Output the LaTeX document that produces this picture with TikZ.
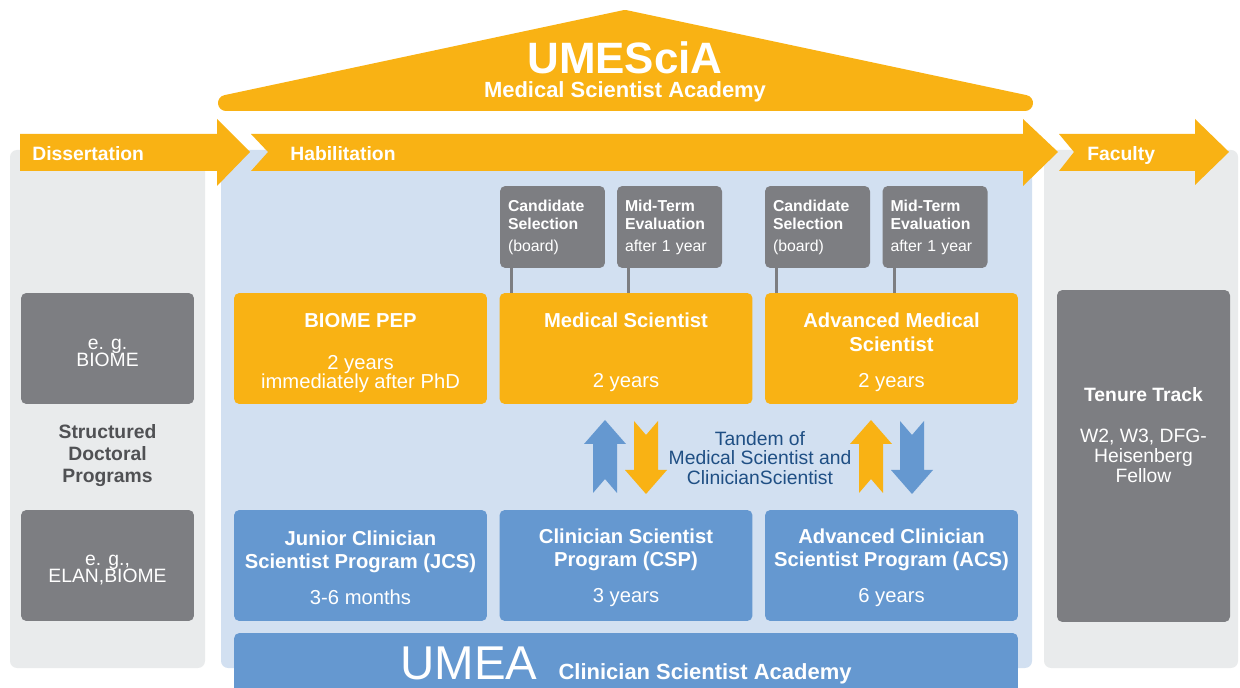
\documentclass[tikz,border=0pt]{standalone}
\usepackage{fontspec}
\setmainfont{Liberation Sans}
\usetikzlibrary{positioning}

\definecolor{umorange}{HTML}{F9B214}
\definecolor{umblue}{HTML}{6598D0}
\definecolor{umgrey}{HTML}{7D7E82}
\definecolor{paleblue}{HTML}{D2E0F1}
\definecolor{palegrey}{HTML}{E9EBEC}
\definecolor{tandemblue}{HTML}{1F4F84}
\definecolor{textgrey}{HTML}{505154}

% extra room above the first line, pushes box texts down a little
\newcommand\toppad[1]{\rule{0pt}{#1}}

\begin{document}
\begin{tikzpicture}
  [x=0.02cm, y=-0.02cm,
   progbox/.style={rectangle, rounded corners=3pt, text=white, align=center, inner sep=0pt},
   orangebox/.style={progbox, fill=umorange, minimum width=5.06cm, minimum height=2.22cm,
     font=\fontsize{11.5}{13.6}\selectfont\bfseries},
   bluebox/.style={progbox, fill=umblue, minimum width=5.06cm, minimum height=2.22cm,
     font=\fontsize{11.5}{13.6}\selectfont\bfseries},
   tagbox/.style={progbox, fill=umgrey, minimum width=2.1cm, minimum height=1.64cm,
     text width=1.78cm, align=left, font=\fontsize{9}{10.2}\selectfont\bfseries},
   darkbox/.style={progbox, fill=umgrey, minimum width=3.46cm, minimum height=2.22cm,
     font=\fontsize{11}{10}\selectfont},
   panel/.style={rounded corners=4pt},
   bannertext/.style={text=white, font=\fontsize{11}{13}\selectfont\bfseries, anchor=west,
     text height=8pt, text depth=0pt, inner sep=0pt},
   tagline/.style={draw=umgrey, line width=1.7pt}]

  \clip (0,0) rectangle (1240,688);
  \fill[white] (0,0) rectangle (1240,688);

  \fill[palegrey, panel] (10,150) rectangle (205,668);
  \fill[paleblue, panel] (221,150) rectangle (1032,668);
  \fill[palegrey, panel] (1044,150) rectangle (1238,668);

  \filldraw[umorange, line width=0.32cm, line join=round] (226,103) -- (625,18) -- (1025,103) -- cycle;
  \node[text=white, anchor=base, font=\fontsize{25}{25}\selectfont\bfseries] (umescia) at (625,74) {UMESciA};
  \node[text=white, anchor=base, font=\fontsize{12.5}{14}\selectfont\bfseries] (academy) at (625,98) {Medical Scientist Academy};

  \fill[umorange] (20,134) -- (217,134) -- (217,119) -- (250,152) -- (217,186) -- (217,171) -- (20,171) -- cycle;
  \fill[umorange] (251,134) -- (1023,134) -- (1023,119) -- (1058,152) -- (1023,186) -- (1023,171) -- (251,171) -- (268,152) -- cycle;
  \fill[umorange] (1059,134) -- (1195,134) -- (1195,119) -- (1229,152) -- (1195,185) -- (1195,171) -- (1059,171) -- (1074,152) -- cycle;
  \node[bannertext] (diss) at (32,153) {Dissertation};
  \node[bannertext] (habil) at (290,153) {Habilitation};
  \node[bannertext] (faculty) at (1087,153) {Faculty};

  \node[darkbox] (phd1) at (107.5,348.5) {\toppad{11pt}e. g.\\BIOME};
  \node[darkbox] (phd2) at (107.5,565.5) {\toppad{11pt}e. g.,\\ELAN,BIOME};
  \node[text=textgrey, align=center, font=\fontsize{11}{12.5}\selectfont\bfseries] (structured) at (107.5,456) {Structured\\Doctoral\\Programs};

  \node[orangebox] (pep) at (360.5,348.5) {\toppad{13pt}BIOME PEP\\[10.2pt]\mdseries 2 years\\[-2.6pt]\mdseries immediately after PhD};
  \node[orangebox] (medsci) at (626,348.5) {\toppad{13pt}Medical Scientist\\[20.4pt]\mdseries 2 years};
  \node[orangebox] (advmed) at (891.5,348.5) {\toppad{13pt}Advanced Medical\\Scientist\\[6.8pt]\mdseries 2 years};

  \node[tagbox] (select1) at (552.5,227) {Candidate\\Selection\\[2.3pt]\mdseries (board)};
  \node[tagbox] (review1) at (669.5,227) {Mid-Term\\Evaluation\\[2.3pt]\mdseries after 1 year};
  \node[tagbox] (select2) at (817.5,227) {Candidate\\Selection\\[2.3pt]\mdseries (board)};
  \node[tagbox] (review2) at (935,227) {Mid-Term\\Evaluation\\[2.3pt]\mdseries after 1 year};
  \foreach \t/\p in {select1/medsci, review1/medsci, select2/advmed, review2/advmed}
    \draw[tagline] ([xshift=0.24cm]\t.south west) -- ([xshift=0.24cm]\t.south west |- \p.north);

  \node[bluebox] (jcs) at (360.5,565.5) {\toppad{10.8pt}Junior Clinician\\Scientist Program (JCS)\\[6.8pt]\mdseries 3-6 months};
  \node[bluebox] (csp) at (626,565.5) {\toppad{10.8pt}Clinician Scientist\\Program (CSP)\\[6.8pt]\mdseries 3 years};
  \node[bluebox] (acs) at (891.5,565.5) {\toppad{10.8pt}Advanced Clinician\\Scientist Program (ACS)\\[6.8pt]\mdseries 6 years};

  \foreach \x/\c/\d in {605/umblue/1, 646/umorange/-1, 871/umorange/1, 912/umblue/-1}
    \fill[\c, shift={(\x,457)}, yscale=\d] (0,-37) -- (21,-13) -- (12,-13) -- (12,36) -- (0,22)
      -- (-12,36) -- (-12,-13) -- (-21,-13) -- cycle;
  \node[text=tandemblue, align=center, font=\fontsize{11}{11.3}\selectfont] (tandem) at (760,458)
    {Tandem of\\Medical Scientist and\\ClinicianScientist};

  \node[darkbox, minimum height=6.64cm] (tenure) at (1143.5,456) {};
  \node[text=white, align=center, font=\fontsize{11}{11.3}\selectfont] (tenuretext) at (1143.5,435)
    {\textbf{Tenure Track}\\[12.5pt]W2, W3, DFG-\\Heisenberg\\Fellow};

  \node[fill=umblue, rounded corners=3pt, minimum width=15.68cm, minimum height=1.34cm, inner sep=0pt] (umea) at (626,666.5) {};
  \node[text=white, anchor=base, inner sep=0pt] (umeatext) at (626,679)
    {\fontsize{27}{27}\selectfont UMEA\hspace{12pt}\fontsize{12.5}{14}\selectfont\bfseries Clinician Scientist Academy};
\end{tikzpicture}
\end{document}
